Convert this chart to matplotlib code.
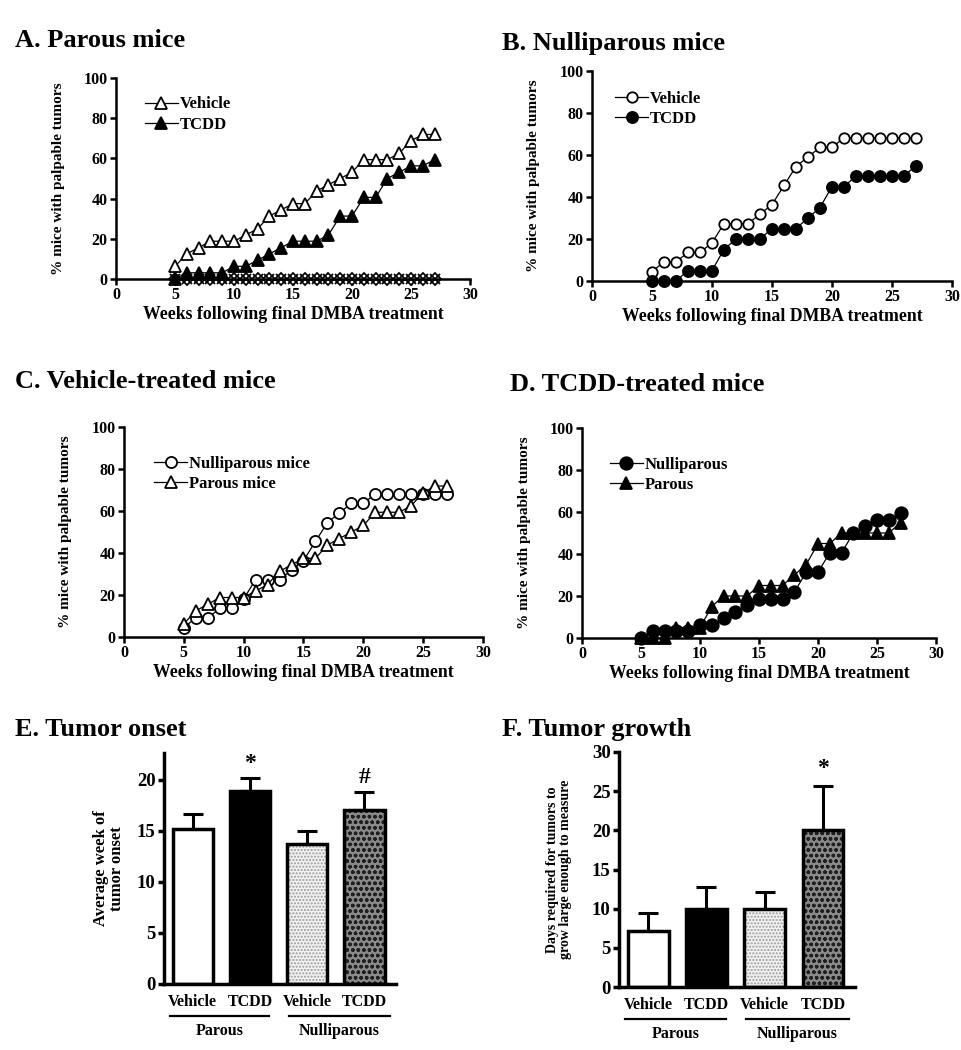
import numpy as np
import matplotlib
matplotlib.use('Agg')
import matplotlib.pyplot as plt
from matplotlib import transforms

# fonts / general look (GraphPad-like, bold Times)
plt.rcParams['font.family'] = 'Liberation Serif'
plt.rcParams['font.weight'] = 'bold'
plt.rcParams['axes.labelweight'] = 'bold'
plt.rcParams['axes.linewidth'] = 1.8
plt.rcParams['xtick.major.width'] = 1.8
plt.rcParams['ytick.major.width'] = 1.8
plt.rcParams['xtick.major.size'] = 4
plt.rcParams['ytick.major.size'] = 4
plt.rcParams['hatch.linewidth'] = 1.0

# data
weeks = [5, 6, 7, 8, 9, 10, 11, 12, 13, 14, 15, 16, 17, 18, 19, 20, 21, 22, 23, 24, 25, 26, 27]
parous_vehicle = [6.3, 12.5, 15.6, 18.8, 18.8, 18.8, 21.9, 25.0, 31.3, 34.4, 37.5, 37.5,
                  43.8, 46.9, 50.0, 53.1, 59.4, 59.4, 59.4, 62.5, 68.8, 71.9, 71.9]
parous_tcdd = [0, 3.1, 3.1, 3.1, 3.1, 6.3, 6.3, 9.4, 12.5, 15.6, 18.8, 18.8,
               18.8, 21.9, 31.3, 31.3, 40.6, 40.6, 50.0, 53.1, 56.3, 56.3, 59.4]
parous_zero_a = [0, 0, 0, 0, 0, 0, 0, 0, 0, 0, 0, 0, 0, 0, 0, 0, 0, 0, 0, 0, 0, 0, 0]
parous_zero_b = [0, 0, 0, 0, 0, 0, 0, 0, 0, 0, 0, 0, 0, 0, 0, 0, 0, 0, 0, 0, 0, 0, 0]
nulli_vehicle = [4.5, 9.1, 9.1, 13.6, 13.6, 18.2, 27.3, 27.3, 27.3, 31.8, 36.4, 45.5,
                 54.5, 59.1, 63.6, 63.6, 68.2, 68.2, 68.2, 68.2, 68.2, 68.2, 68.2]
nulli_tcdd = [0, 0, 0, 5, 5, 5, 15, 20, 20, 20, 25, 25,
              25, 30, 35, 45, 45, 50, 50, 50, 50, 50, 55]

bar_labels = ['Vehicle', 'TCDD', 'Vehicle', 'TCDD']
group_labels = ['Parous', 'Nulliparous']
onset_mean = [15.2, 18.9, 13.7, 17.0]
onset_sem = [1.4, 1.3, 1.25, 1.8]
growth_mean = [7.15, 10.0, 10.0, 20.0]
growth_sem = [2.35, 2.8, 2.1, 5.6]

W, H = 962, 1050
fig = plt.figure(figsize=(W / 100, H / 100), dpi=100)


def px_axes(left, top, right, bottom):
    return fig.add_axes([left / W, 1 - bottom / H, (right - left) / W, (bottom - top) / H])


def clean(ax):
    ax.spines['top'].set_visible(False)
    ax.spines['right'].set_visible(False)
    ax.tick_params(labelsize=11.5, direction='out', pad=2)


def line_panel(ax, series, anchor):
    clean(ax)
    for y, mk, face, ms, lab in series:
        ax.plot(weeks, y, marker=mk, color='black', mfc=face, mec='black', ms=ms,
                mew=1.3, lw=0.9, label=lab, clip_on=False)
    ax.set_xlim(0, 30)
    ax.set_ylim(0, 100)
    ax.set_xticks([0, 5, 10, 15, 20, 25, 30])
    ax.set_yticks([0, 20, 40, 60, 80, 100])
    ax.set_xlabel('Weeks following final DMBA treatment', fontsize=12.8, labelpad=2)
    ax.set_ylabel('% mice with palpable tumors', fontsize=11)
    ax.yaxis.set_label_coords(-0.145, 0.5)
    ax.legend(loc='upper left', bbox_to_anchor=anchor, frameon=False, fontsize=12,
              handlelength=2.0, handletextpad=0.1, labelspacing=0.25, borderpad=0,
              numpoints=1)


# A. Parous mice
axA = px_axes(116, 78, 470, 279)
line_panel(axA, [(parous_zero_a, 'D', 'white', 6, '_nolegend_'),
                 (parous_zero_b, 'x', 'white', 7, '_nolegend_'),
                 (parous_vehicle, '^', 'white', 9, 'Vehicle'),
                 (parous_tcdd, '^', 'black', 8, 'TCDD')], (0.057, 0.95))

# B. Nulliparous mice
axB = px_axes(592, 71, 952, 281)
line_panel(axB, [(nulli_vehicle, 'o', 'white', 7.5, 'Vehicle'),
                 (nulli_tcdd, 'o', 'black', 8, 'TCDD')], (0.041, 0.946))

# C. Vehicle-treated mice
axC = px_axes(124, 427, 483, 637)
line_panel(axC, [(nulli_vehicle, 'o', 'white', 8, 'Nulliparous mice'),
                 (parous_vehicle, '^', 'white', 9, 'Parous mice')], (0.06, 0.903))

# D. TCDD-treated mice (marker assignment as printed)
axD = px_axes(582, 428, 936, 638)
line_panel(axD, [(parous_tcdd, 'o', 'black', 9, 'Nulliparous'),
                 (nulli_tcdd, '^', 'black', 8.5, 'Parous')], (0.055, 0.903))


def bar_panel(ax, means, sems, ylim, yticks, ylabel, label_x, ylab_size, marks):
    clean(ax)
    ax.spines['left'].set_linewidth(2.5)
    ax.spines['bottom'].set_linewidth(2.5)
    x = np.arange(len(means))
    faces = ['white', 'black', '#f2f2f2', '#8a8a8a']
    hatch_col = ['white', 'black', '#9a9a9a', '#202020']
    hatches = [None, None, '.....', 'ooo']
    for i in range(len(means)):
        ax.bar(x[i], means[i], 0.7, color=faces[i], edgecolor=hatch_col[i],
               hatch=hatches[i], lw=0, zorder=2)
        ax.bar(x[i], means[i], 0.7, fill=False, edgecolor='black', lw=2.5, zorder=3)
    ax.errorbar(x, means, yerr=[np.zeros(len(sems)), sems], fmt='none', ecolor='black',
                elinewidth=2.2, capsize=7, capthick=2.2, zorder=1)
    ax.set_xlim(-0.5, 3.55)
    ax.set_ylim(*ylim)
    ax.set_yticks(yticks)
    ax.tick_params(axis='y', labelsize=13.5, width=2.5, length=4)
    ax.set_xticks(x)
    ax.set_xticklabels(bar_labels, fontsize=11.5)
    ax.tick_params(axis='x', length=0, pad=7)
    ax.set_ylabel(ylabel, fontsize=ylab_size, linespacing=1.0)
    ax.yaxis.set_label_coords(label_x, 0.5)
    tr = transforms.blended_transform_factory(ax.transData, ax.transAxes)
    for (x0, x1), lab in zip([(-0.4, 1.34), (1.68, 3.45)], group_labels):
        ax.plot([x0, x1], [-0.137, -0.137], color='black', lw=1.6, transform=tr, clip_on=False)
        ax.text((x0 + x1) / 2, -0.168, lab, transform=tr, ha='center', va='top', fontsize=11.5)
    for xi, yi, s in marks:
        ax.text(xi, yi, s, ha='center', va='center', fontsize=17)


# E. Tumor onset
axE = px_axes(164, 753, 396, 984)
bar_panel(axE, onset_mean, onset_sem, (0, 22.6), [0, 5, 10, 15, 20],
          'Average week of\ntumor onset', -0.17, 12, [(1, 21.6, '*'), (3, 20.2, '#')])

# F. Tumor growth
axF = px_axes(619, 752, 855, 987)
bar_panel(axF, growth_mean, growth_sem, (0, 30), [0, 5, 10, 15, 20, 25, 30],
          'Days required for tumors to\ngrow large enough to measure', -0.2, 10,
          [(3, 27.9, '*')])

# panel titles
for x, y, s in [(15, 47, 'A. Parous mice'), (502, 50, 'B. Nulliparous mice'),
                (15, 388, 'C. Vehicle-treated mice'), (510, 391, 'D. TCDD-treated mice'),
                (15, 736, 'E. Tumor onset'), (502, 736, 'F. Tumor growth')]:
    fig.text(x / W, 1 - y / H, s, fontsize=19, ha='left', va='baseline')

fig.savefig('out.png', dpi=100)
